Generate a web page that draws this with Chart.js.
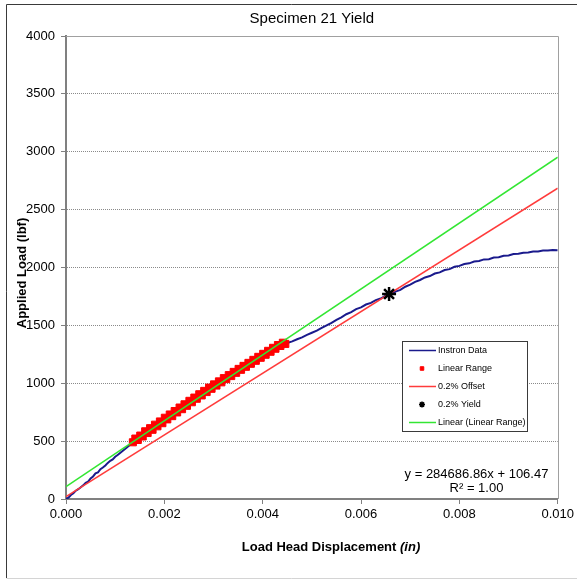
<!DOCTYPE html>
<html><head><meta charset="utf-8">
<script src="https://cdn.jsdelivr.net/npm/chart.js@4.4.1/dist/chart.umd.min.js"></script>
<style>html,body{margin:0;padding:0;background:#fff;overflow:hidden}canvas{display:block}</style>
</head><body>
<canvas id="c" width="577" height="580"></canvas>
<script>
// ---- data ----
const chartTitle = 'Specimen 21 Yield';
const xAxisTitle = 'Load Head Displacement ';
const xAxisUnit = '(in)';
const yAxisTitle = 'Applied Load (lbf)';
const seriesNames = ['Instron Data', 'Linear Range', '0.2% Offset', '0.2% Yield', 'Linear (Linear Range)'];
const equationLines = ['y = 284686.86x + 106.47', 'R\u00B2 = 1.00'];

const xTickValues = [0, 0.002, 0.004, 0.006, 0.008, 0.010];
const xTickLabels = ['0.000', '0.002', '0.004', '0.006', '0.008', '0.010'];
const yTickValues = [0, 500, 1000, 1500, 2000, 2500, 3000, 3500, 4000];
const yTickLabels = ['0', '500', '1000', '1500', '2000', '2500', '3000', '3500', '4000'];

const instronX = [0, 0.00005, 0.0001, 0.00015, 0.0002, 0.00025, 0.0003, 0.00035, 0.0004, 0.00045, 0.0005,
  0.00055, 0.0006, 0.00065, 0.0007, 0.00075, 0.0008, 0.00085, 0.0009, 0.00095, 0.001, 0.00105, 0.0011,
  0.00115, 0.0012, 0.00125, 0.0013, 0.00135, 0.0015, 0.0018, 0.0021, 0.0024, 0.0027, 0.003, 0.0033,
  0.0036, 0.0039, 0.0042, 0.0044, 0.0045, 0.0046, 0.0047, 0.0048, 0.0049, 0.005, 0.0051, 0.0052, 0.0053,
  0.0054, 0.0055, 0.0056, 0.0057, 0.0058, 0.0059, 0.006, 0.0061, 0.0062, 0.0063, 0.0064, 0.0065, 0.0066,
  0.0067, 0.0068, 0.0069, 0.007, 0.0071, 0.0072, 0.0073, 0.0074, 0.0075, 0.0076, 0.0077, 0.0078, 0.0079,
  0.008, 0.0081, 0.0082, 0.0083, 0.0084, 0.0085, 0.0086, 0.0087, 0.0088, 0.0089, 0.009, 0.0091, 0.0092,
  0.0093, 0.0094, 0.0095, 0.0096, 0.0097, 0.0098, 0.0099, 0.01];
const instronY = [0, 12, 35, 50, 72, 85, 102, 118, 140, 150, 178,
  195, 222, 230, 258, 272, 290, 312, 330, 342, 365, 380, 398,
  415, 432, 450, 466, 484, 532, 618, 706, 790, 872, 960, 1044,
  1128, 1208, 1282, 1330, 1348, 1362, 1380, 1396, 1418, 1436, 1455, 1478, 1500,
  1522, 1548, 1570, 1596, 1614, 1640, 1656, 1680, 1694, 1718, 1732, 1756, 1768,
  1792, 1806, 1834, 1852, 1876, 1892, 1914, 1926, 1948, 1958, 1978, 1986, 2006,
  2014, 2030, 2036, 2052, 2056, 2070, 2072, 2086, 2088, 2102, 2104, 2116, 2118,
  2128, 2130, 2138, 2139, 2146, 2146, 2151, 2150];

const linearX = [0.00136, 0.00141, 0.00146, 0.00151, 0.00156, 0.00161, 0.00166, 0.00171, 0.00176, 0.00181,
  0.00186, 0.00191, 0.00196, 0.00201, 0.00206, 0.00211, 0.00216, 0.00221, 0.00226, 0.00231, 0.00236,
  0.00241, 0.00246, 0.00251, 0.00256, 0.00261, 0.00266, 0.00271, 0.00276, 0.00281, 0.00286, 0.00291,
  0.00296, 0.00301, 0.00306, 0.00311, 0.00316, 0.00321, 0.00326, 0.00331, 0.00336, 0.00341, 0.00346,
  0.00351, 0.00356, 0.00361, 0.00366, 0.00371, 0.00376, 0.00381, 0.00386, 0.00391, 0.00396, 0.00401,
  0.00406, 0.00411, 0.00416, 0.00421, 0.00426, 0.00431, 0.00436, 0.00441, 0.00446];
const linearY = [490, 522, 510, 548, 540, 585, 570, 612, 598, 642,
  628, 670, 655, 702, 688, 730, 716, 760, 748, 790, 776,
  818, 805, 848, 836, 876, 866, 905, 895, 934, 924, 962,
  952, 990, 980, 1016, 1008, 1044, 1036, 1070, 1062, 1098, 1090,
  1124, 1116, 1150, 1142, 1176, 1168, 1202, 1194, 1228, 1220, 1254,
  1246, 1280, 1272, 1306, 1298, 1330, 1322, 1350, 1340];

const offsetX = [0, 0.010];
const offsetY = [20, 2685];
const yieldX = [0.00657];
const yieldY = [1771];
const fitX = [0, 0.010];
const fitY = [106.47, 2953.34];

const pts = (xs, ys) => xs.map((x, i) => ({x: x, y: ys[i]}));
const FONT = "'Liberation Sans', Arial, sans-serif";

const decor = {
  id: 'decor',
  beforeDatasetsDraw(chart) {
    const {ctx, chartArea: a} = chart;
    ctx.save();
    ctx.strokeStyle = '#a0a0a0';
    ctx.lineWidth = 1;
    ctx.beginPath();
    ctx.moveTo(a.left, Math.round(a.top) + 0.5);
    ctx.lineTo(Math.round(a.right) + 0.5, Math.round(a.top) + 0.5);
    ctx.lineTo(Math.round(a.right) + 0.5, a.bottom);
    ctx.stroke();
    ctx.restore();
  },
  afterDraw(chart) {
    const {ctx} = chart;
    const ds = chart.data.datasets;
    ctx.save();
    // outer frame
    ctx.lineWidth = 1;
    ctx.strokeStyle = '#3a3a3a';
    ctx.beginPath();
    ctx.moveTo(6.5, 578); ctx.lineTo(6.5, 4.5); ctx.lineTo(577, 4.5);
    ctx.stroke();
    ctx.strokeStyle = '#d4d4d4';
    ctx.beginPath();
    ctx.moveTo(6.5, 578.5); ctx.lineTo(577, 578.5);
    ctx.stroke();

    // x axis title
    ctx.fillStyle = '#000';
    ctx.textBaseline = 'middle';
    ctx.font = 'bold 13px ' + FONT;
    const w1 = ctx.measureText(xAxisTitle).width;
    ctx.font = 'italic bold 13px ' + FONT;
    const w2 = ctx.measureText(xAxisUnit).width;
    const sx = 331 - (w1 + w2) / 2;
    ctx.textAlign = 'left';
    ctx.font = 'bold 13px ' + FONT;
    ctx.fillText(xAxisTitle, sx, 547);
    ctx.font = 'italic bold 13px ' + FONT;
    ctx.fillText(xAxisUnit, sx + w1, 547);

    // y axis title
    ctx.save();
    ctx.translate(22, 273);
    ctx.rotate(-Math.PI / 2);
    ctx.textAlign = 'center';
    ctx.font = 'bold 13px ' + FONT;
    ctx.fillText(yAxisTitle, 0, 0);
    ctx.restore();

    // trendline equation
    ctx.textAlign = 'center';
    ctx.font = '13px ' + FONT;
    ctx.fillText(equationLines[0], 476.5, 474);
    ctx.fillText(equationLines[1], 476.5, 488);

    // legend
    const L = 402.5, T = 341.5, W = 125, H = 90;
    ctx.fillStyle = '#fff';
    ctx.fillRect(L, T, W, H);
    ctx.strokeStyle = '#3a3a3a';
    ctx.lineWidth = 1;
    ctx.strokeRect(L, T, W, H);
    ctx.font = '9px ' + FONT;
    ctx.textAlign = 'left';
    for (let i = 0; i < ds.length; i++) {
      const d = ds[i];
      const y = 350.5 + i * 18;
      if (d.showLine) {
        ctx.strokeStyle = d.borderColor;
        ctx.lineWidth = 1.5;
        ctx.beginPath(); ctx.moveTo(409, y); ctx.lineTo(436, y); ctx.stroke();
      } else {
        ctx.fillStyle = d.backgroundColor;
        ctx.strokeStyle = d.borderColor;
        ctx.lineWidth = d.legendBorder;
        Chart.helpers.drawPoint(ctx, {pointStyle: d.pointStyle, radius: d.legendRadius, rotation: 0,
          borderWidth: d.legendBorder}, 422, y);
      }
      ctx.fillStyle = '#000';
      ctx.fillText(d.label, 438, y);
    }
    ctx.restore();
  }
};

new Chart(document.getElementById('c'), {
  type: 'scatter',
  data: {
    datasets: [
      {label: seriesNames[0], data: pts(instronX, instronY), showLine: true, borderColor: '#1a1a8c',
        backgroundColor: '#1a1a8c', borderWidth: 2, pointRadius: 0, order: 4},
      {label: seriesNames[1], data: pts(linearX, linearY), showLine: false, pointStyle: 'rect',
        pointRadius: 5, borderWidth: 1, borderColor: '#ff0000', backgroundColor: '#ff0000',
        legendRadius: 2.5, legendBorder: 1, order: 3},
      {label: seriesNames[2], data: pts(offsetX, offsetY), showLine: true, borderColor: '#ff3b3b',
        borderWidth: 1.6, pointRadius: 0, order: 2},
      {label: seriesNames[3], data: pts(yieldX, yieldY), showLine: false, pointStyle: 'star',
        pointRadius: 7, borderWidth: 2.5, borderColor: '#000', backgroundColor: '#000',
        legendRadius: 3, legendBorder: 1.5, order: 0},
      {label: seriesNames[4], data: pts(fitX, fitY), showLine: true, borderColor: '#33e633',
        borderWidth: 1.6, pointRadius: 0, order: 1}
    ]
  },
  options: {
    responsive: false,
    animation: false,
    devicePixelRatio: 1,
    layout: {padding: {left: 0, top: 0, right: 19, bottom: 0}},
    plugins: {
      legend: {display: false},
      tooltip: {enabled: false},
      title: {display: true, text: chartTitle, fullSize: false, color: '#000',
        font: {family: FONT, size: 15, weight: 'normal', lineHeight: 1.2}, padding: {top: 10, bottom: 8}}
    },
    scales: {
      x: {
        type: 'linear', min: 0, max: 0.010,
        afterBuildTicks: s => { s.ticks = xTickValues.map(v => ({value: v})); },
        afterFit: s => { s.height = 81; },
        ticks: {callback: (v, i) => xTickLabels[i], color: '#000', padding: 3, maxRotation: 0,
          font: {family: FONT, size: 13}},
        grid: {drawOnChartArea: false, tickLength: 5, tickColor: '#808080', tickWidth: 1},
        border: {color: '#808080', width: 2}
      },
      y: {
        type: 'linear', min: 0, max: 4000,
        afterBuildTicks: s => { s.ticks = yTickValues.map(v => ({value: v})); },
        afterFit: s => { s.width = 66; },
        ticks: {callback: (v, i) => yTickLabels[i], color: '#000', padding: 6,
          font: {family: FONT, size: 13}},
        grid: {
          color: c => (c.tick && (c.tick.value === 0 || c.tick.value === 4000)) ? 'rgba(0,0,0,0)' : '#8a8a8a',
          lineWidth: 1, tickLength: 5, tickColor: '#808080', tickWidth: 1, tickBorderDash: []
        },
        border: {color: '#808080', width: 2, dash: [1, 1]}
      }
    }
  },
  plugins: [decor]
});
</script>
</body></html>
